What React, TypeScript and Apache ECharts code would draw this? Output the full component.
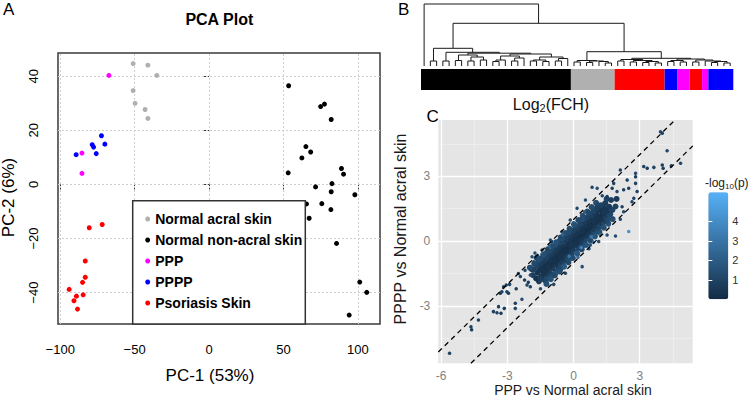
import React, { useEffect, useRef } from "react";
import * as echarts from "echarts";

const FONT = "'Liberation Sans', Arial, Helvetica, sans-serif";

// ---------------- Panel A : PCA ----------------
const pcaGroups = ["Normal acral skin", "Normal non-acral skin", "PPP", "PPPP", "Psoriasis Skin"];
const pcaColors = ["#B0B0B0", "#000000", "#FF00FF", "#0000FF", "#FF0000"];
const normalAcral = [[-51.0, 44.7], [-41.1, 44.1], [-35.1, 40.3], [-51.0, 34.7], [-49.7, 30.0], [-43.0, 27.7], [-41.1, 24.4]];
const normalNonAcral = [
  [53.5, 36.5], [75.0, 28.8], [77.6, 29.7], [82.1, 24.0], [65.1, 14.0], [62.4, 9.8], [68.3, 12.0], [53.2, 4.3],
  [89.0, 5.9], [90.4, 3.8], [82.6, 0.3], [71.6, -0.9], [82.1, -2.7], [98.0, -3.8], [65.5, -7.2], [75.8, -7.1],
  [81.9, -9.3], [63.3, -13.6], [67.3, -12.5], [85.7, -21.8], [101.3, -36.1], [106.0, -39.9], [94.2, -48.3],
];
const ppp = [[-67.3, 40.3], [-85.4, 11.6], [-85.4, 4.1]];
const pppp = [[-89.3, 11.0], [-78.5, 14.7], [-77.6, 13.8], [-75.8, 11.4], [-72.3, 18.0], [-70.0, 14.9]];
const psoriasis = [
  [-80.5, -16.0], [-71.8, -14.8], [-83.2, -28.3], [-83.2, -34.3], [-85.0, -36.2],
  [-94.0, -38.8], [-89.1, -41.3], [-84.6, -40.8], [-90.8, -43.0], [-88.4, -46.1],
];
const pcaSeriesData = [normalAcral, normalNonAcral, ppp, pppp, psoriasis];
const pcaXTicks = [-100, -50, 0, 50, 100];
const pcaYTicks = [-40, -20, 0, 20, 40];
const pcaXRange = [-101.5, 114.9];
const pcaYRange = [-51.6, 48.6];

// ---------------- Panel B : dendrogram + sample bar ----------------
// node = [height, left, right]; leaf = 0
const blackLeft = [5, 0, 0];
const blackD1 = [11, [5.5, 0, 0], [9, [5, 0, 0], [6, 0, 0]]];
const blackD3 = [10, [6, [4.5, 0, 0], 0], [8, [5, 0, 0], 0]];
const blackD4 = [9, [6, [5, 0, 0], [4.5, 0, 0]], [7.5, [5, 0, 0], 0]];
const blackTree = [17.7, blackLeft, [13.7, [5, 0, 0], [12.8, blackD1, [12, blackD3, blackD4]]]];
const grayTree = [5.5, [4, 0, 0], [5, [3.5, 0, 0], [4.5, 0, [3, 0, 0]]]];
const redTree = [6.5, [5, 0, 0], [5.5, [4, 0, 0], [4.5, [3.5, 0, 0], [3, 0, 0]]]];
const mixedTree = [7, [5.5, [4.5, 0, 0], [4, 0, 0]], [6, [4, 0, 0], [5, 0, [4.5, [3.5, 0, 0], [3, 0, 0]]]]];
const lesionTree = [7.7, redTree, mixedTree];
const dendroTree = [62, 0, [42.7, blackTree, [14.3, grayTree, lesionTree]]];
const dendroMaxHeight = 62;

const barGroups = ["Normal non-acral skin", "Normal acral skin", "Psoriasis Skin", "PPPP", "PPP", "Psoriasis Skin", "PPP", "PPPP"];
const barCounts = [24, 7, 8, 2, 2, 2, 1, 4];

// ---------------- Panel C : fold-change scatter ----------------
const fchXTicks = [-6, -3, 0, 3];
const fchYTicks = [-3, 0, 3];
const fchMinorX = [-4.5, -1.5, 1.5, 4.5];
const fchMinorY = [-4.5, -1.5, 1.5, 4.5];
const fchXRange = [-6.13, 5.4];
const fchYRange = [-5.65, 5.6];
const foldLines = [1, -1];
const pRange = [0, 5.5];
const pTicks = [1, 2, 3, 4];

const coreGenes = [
  [-1.57, -1.86, 0.7], [-1.70, -1.72, 0.3], [-1.84, -1.57, 0.8],
  [-1.31, -1.80, 1.0], [-1.47, -1.65, 0.5], [-1.62, -1.46, 0.4], [-1.80, -1.31, 0.9],
  [-1.13, -1.67, 1.1], [-1.27, -1.55, 0.6], [-1.41, -1.38, 0.3], [-1.55, -1.27, 0.4], [-1.66, -1.13, 1.0],
  [-0.97, -1.55, 1.3], [-1.12, -1.41, 0.6], [-1.24, -1.27, 0.2], [-1.36, -1.13, 0.3], [-1.49, -1.02, 0.7], [-1.60, -0.90, 1.2],
  [-0.79, -1.42, 1.4], [-0.94, -1.27, 0.7], [-1.06, -1.16, 0.3], [-1.17, -1.02, 0.2], [-1.31, -0.91, 0.6], [-1.42, -0.78, 1.1],
  [-0.67, -1.24, 1.0], [-0.81, -1.09, 0.5], [-0.94, -0.96, 0.2], [-1.06, -0.84, 0.4], [-1.19, -0.71, 0.9],
  [-0.49, -1.12, 1.3], [-0.64, -0.97, 0.6], [-0.76, -0.86, 0.2], [-0.87, -0.72, 0.3], [-1.01, -0.61, 0.7], [-1.12, -0.48, 1.2],
  [-0.41, -0.91, 0.9], [-0.52, -0.77, 0.4], [-0.66, -0.64, 0.2], [-0.79, -0.52, 0.5], [-0.91, -0.38, 0.9],
  [-0.19, -0.81, 1.5], [-0.34, -0.67, 0.7], [-0.46, -0.56, 0.3], [-0.57, -0.42, 0.2], [-0.71, -0.31, 0.6], [-0.82, -0.18, 1.3],
  [-0.09, -0.62, 1.0], [-0.22, -0.47, 0.5], [-0.36, -0.34, 0.2], [-0.49, -0.24, 0.4], [-0.61, -0.09, 1.0],
  [0.11, -0.49, 1.6], [-0.04, -0.37, 0.7], [-0.16, -0.26, 0.3], [-0.27, -0.12, 0.3], [-0.41, 0.01, 0.7], [-0.52, 0.12, 1.4],
  [0.21, -0.31, 1.1], [0.07, -0.17, 0.4], [-0.06, -0.04, 0.2], [-0.17, 0.09, 0.5], [-0.31, 0.21, 1.0],
  [0.41, -0.21, 1.4], [0.29, -0.07, 0.7], [0.14, 0.06, 0.3], [0.04, 0.17, 0.3], [-0.11, 0.31, 0.7], [-0.21, 0.42, 1.3],
  [0.51, 0.01, 1.0], [0.37, 0.14, 0.5], [0.26, 0.24, 0.2], [0.12, 0.39, 0.4], [0.01, 0.51, 0.9],
  [0.71, 0.11, 1.5], [0.57, 0.24, 0.6], [0.46, 0.34, 0.2], [0.32, 0.49, 0.3], [0.21, 0.59, 0.7], [0.09, 0.71, 1.2],
  [0.81, 0.29, 1.0], [0.67, 0.44, 0.4], [0.56, 0.54, 0.2], [0.42, 0.69, 0.5], [0.31, 0.81, 1.0],
  [1.01, 0.41, 1.3], [0.87, 0.54, 0.7], [0.76, 0.64, 0.3], [0.62, 0.79, 0.3], [0.51, 0.89, 0.7], [0.39, 1.01, 1.4],
  [1.11, 0.59, 0.9], [0.97, 0.74, 0.5], [0.86, 0.84, 0.2], [0.72, 0.99, 0.4], [0.61, 1.09, 1.0],
  [1.31, 0.69, 1.3], [1.17, 0.84, 0.6], [1.06, 0.94, 0.3], [0.92, 1.09, 0.3], [0.81, 1.19, 0.8], [0.69, 1.31, 1.2],
  [1.41, 0.91, 0.9], [1.27, 1.04, 0.4], [1.16, 1.14, 0.2], [1.02, 1.29, 0.5], [0.91, 1.39, 1.0],
  [1.56, 1.04, 1.2], [1.42, 1.19, 0.6], [1.31, 1.29, 0.3], [1.17, 1.44, 0.4], [1.06, 1.54, 0.9],
  [1.66, 1.24, 1.1], [1.52, 1.39, 0.5], [1.39, 1.52, 0.4], [1.24, 1.66, 0.9],
  [1.76, 1.44, 1.0], [1.61, 1.59, 0.6], [1.44, 1.76, 0.8],
  [-1.90, -1.30, 0.9], [-1.50, -1.75, 0.8], [-1.20, -1.75, 1.2], [-0.60, -1.30, 1.1], [-1.30, -0.60, 1.2], [-1.65, -0.75, 1.1],
  [1.90, 1.60, 0.9], [1.70, 1.90, 0.8], [1.95, 1.95, 0.6], [1.50, 1.95, 1.0],
  [-1.35, -1.45, 0.3], [-0.85, -0.95, 0.3], [-0.35, -0.45, 0.2], [0.15, -0.05, 0.3], [0.65, 0.55, 0.2], [1.15, 1.05, 0.3],
  [-1.15, -1.20, 0.4], [-0.60, -0.70, 0.3], [-0.10, -0.15, 0.4], [0.40, 0.45, 0.3], [0.90, 0.95, 0.4], [1.40, 1.35, 0.5],
  [-1.98, -1.23, 1.3], [-1.23, -1.98, 1.5], [-1.78, -1.05, 1.2], [-1.03, -1.76, 1.6], [-1.58, -0.83, 1.4], [-0.85, -1.58, 1.2],
  [-1.38, -0.63, 1.5], [-0.63, -1.40, 1.3], [-1.18, -0.43, 1.2], [-0.43, -1.18, 1.7], [-0.98, -0.23, 1.4], [-0.23, -0.98, 1.2],
  [-0.78, -0.05, 1.6], [-0.03, -0.78, 1.3], [-0.58, 0.17, 1.2], [0.17, -0.58, 1.8], [-0.38, 0.37, 1.4], [0.37, -0.38, 1.2],
  [-0.18, 0.57, 1.3], [0.57, -0.18, 1.6], [0.02, 0.77, 1.5], [0.77, 0.02, 1.2], [0.22, 0.97, 1.2], [0.97, 0.22, 1.7],
  [0.42, 1.17, 1.4], [1.17, 0.42, 1.3], [0.62, 1.37, 1.2], [1.37, 0.62, 1.5], [0.82, 1.57, 1.3], [1.57, 0.82, 1.2],
  [1.02, 1.77, 1.1], [1.77, 1.02, 1.4],
];

const outlierGenes = [
  [-5.62, -5.19, 1.0], [-4.65, -3.96, 0.9], [-4.62, -4.10, 0.7], [-4.31, -3.65, 1.1],
  [-3.63, -3.26, 0.8], [-3.47, -3.31, 1.0], [-3.29, -3.34, 0.7], [-3.40, -3.03, 0.9], [-3.14, -3.11, 0.7],
  [-2.64, -3.11, 1.2], [-2.64, -2.87, 0.9], [-2.34, -2.69, 1.3],
  [-3.32, -2.41, 0.8], [-3.25, -2.34, 1.0], [-3.17, -2.11, 0.7], [-3.05, -2.03, 1.1], [-2.90, -2.00, 0.9],
  [-2.95, -2.41, 0.7], [-3.02, -2.34, 0.9],
  [-2.41, -1.64, 1.1], [-2.22, -1.80, 0.8], [-2.11, -2.03, 1.2], [-1.96, -2.11, 0.9], [-1.96, -1.57, 1.3],
  [-2.20, -1.35, 1.0], [-2.05, -1.90, 0.8],
  [-1.88, -0.72, 1.4], [-1.73, -0.79, 1.0], [-1.81, -0.95, 1.2], [-1.43, -0.41, 1.5], [-1.20, -0.33, 1.1],
  [-1.05, 0.05, 1.7], [-0.98, -0.02, 1.1], [-0.68, 0.05, 1.4], [-0.52, 0.44, 1.9], [-0.15, 0.98, 1.3],
  [0.16, 1.52, 1.2], [0.54, 1.90, 1.5], [0.84, 2.49, 1.0], [1.07, 2.44, 1.3],
  [-0.75, -1.49, 1.6], [-0.37, -1.49, 1.1], [0.39, -1.18, 1.5], [0.76, -0.18, 1.8], [1.14, -0.02, 1.2],
  [1.52, 0.28, 1.6], [1.90, 0.24, 1.4], [2.50, 0.44, 4.3], [2.12, 1.01, 1.4], [2.20, 1.59, 1.0],
  [2.27, 1.36, 1.3], [2.65, 1.82, 1.1], [2.73, 1.98, 0.9], [2.88, 2.29, 1.0], [1.44, 1.67, 0.8], [1.52, 2.06, 0.8],
  [1.82, 2.67, 1.0], [1.75, 2.44, 0.7], [1.97, 2.29, 1.2], [2.27, 2.37, 0.9], [2.50, 2.44, 0.8],
  [2.12, 3.29, 1.0], [2.43, 2.83, 0.8], [2.81, 3.14, 1.2], [2.81, 2.98, 0.8], [2.81, 2.67, 1.0],
  [3.18, 3.45, 0.9], [3.34, 3.37, 0.7], [3.64, 3.41, 1.0], [4.02, 3.52, 0.8], [4.06, 3.37, 0.8],
  [4.24, 4.18, 1.1], [4.43, 3.48, 1.0], [4.85, 3.60, 1.1], [3.94, 5.06, 1.2], [4.02, 4.99, 0.9],
  [-1.00, -1.75, 1.6], [-0.40, -1.20, 2.0], [0.20, -0.75, 2.4], [0.70, -0.35, 1.9], [1.20, 0.30, 2.2],
  [1.60, 0.75, 1.7], [0.90, -0.05, 2.8], [-1.75, -0.55, 1.5], [-1.10, -0.25, 2.0], [-0.50, 0.30, 2.3],
  [0.00, 0.85, 1.8], [0.50, 1.35, 2.0], [1.00, 1.80, 1.5], [1.30, 2.10, 1.2],
  [-2.50, -1.50, 1.0], [-2.60, -2.20, 0.9], [-1.50, -2.20, 1.3], [-0.90, -2.00, 1.1],
  [0.35, -0.30, 3.6], [0.80, 0.20, 3.2], [-0.20, -0.70, 3.0],
];

function buildDendrogram(tree: any) {
  const segs: number[][] = [];
  let leaf = 0;
  const walk = (n: any): { x: number; h: number } => {
    if (typeof n === "number") {
      const x = leaf + 0.5;
      leaf += 1;
      return { x, h: 0 };
    }
    const a = walk(n[1]);
    const b = walk(n[2]);
    segs.push([a.x, a.h, b.x, b.h, n[0]]);
    return { x: (a.x + b.x) / 2, h: n[0] };
  };
  walk(tree);
  return { segs, leaves: leaf };
}

const minus = (v: number) => String(v).replace("-", "\u2212");

export default function App() {
  const ref = useRef<HTMLDivElement>(null);
  useEffect(() => {
    if (!ref.current) return;
    const chart = echarts.init(ref.current, undefined, { renderer: "svg" });
    const dendro = buildDendrogram(dendroTree);
    const barTotal = barCounts.reduce((s, v) => s + v, 0);

    const series: any[] = [];
    series.push({
      type: "scatter", xAxisIndex: 0, yAxisIndex: 0, silent: true, z: 1,
      data: [[pcaXTicks[2], pcaYTicks[2]]], symbolSize: 0,
      markLine: {
        silent: true, symbol: "none", label: { show: false }, animation: false, z: 1,
        lineStyle: { color: "#cfcfcf", type: [2, 2], width: 1 },
        data: [...pcaXTicks.map((v) => ({ xAxis: v })), ...pcaYTicks.map((v) => ({ yAxis: v }))],
      },
    });
    pcaGroups.forEach((name, i) => {
      series.push({
        type: "scatter", name, xAxisIndex: 0, yAxisIndex: 0, z: 3, silent: true,
        emphasis: { disabled: true }, symbol: "circle",
        data: pcaSeriesData[i], symbolSize: 5, itemStyle: { color: pcaColors[i], opacity: 1, borderWidth: 0 },
      });
    });
    series.push({
      type: "custom", xAxisIndex: 1, yAxisIndex: 1, silent: true,
      data: dendro.segs,
      renderItem: (_p: any, api: any) => {
        const a = api.coord([api.value(0), api.value(1)]);
        const b = api.coord([api.value(0), api.value(4)]);
        const c = api.coord([api.value(2), api.value(4)]);
        const d = api.coord([api.value(2), api.value(3)]);
        return { type: "polyline", shape: { points: [a, b, c, d] }, style: { stroke: "#1a1a1a", lineWidth: 1, fill: null } };
      },
    });
    barGroups.forEach((g, i) => {
      series.push({
        type: "bar", xAxisIndex: 2, yAxisIndex: 2, stack: "samples", silent: true,
        data: [barCounts[i]], barWidth: "100%",
        itemStyle: { color: pcaColors[pcaGroups.indexOf(g)] },
      });
    });
    series.push({
      type: "scatter", xAxisIndex: 3, yAxisIndex: 3, silent: true, z: 1,
      data: [[fchXTicks[2], fchYTicks[1]]], symbolSize: 0,
      markLine: {
        silent: true, symbol: "none", label: { show: false }, animation: false, z: 1,
        data: [
          ...fchMinorX.map((v) => ({ xAxis: v, lineStyle: { color: "#F2F2F2", width: 0.6, type: "solid" } })),
          ...fchMinorY.map((v) => ({ yAxis: v, lineStyle: { color: "#F2F2F2", width: 0.6, type: "solid" } })),
          ...fchXTicks.map((v) => ({ xAxis: v, lineStyle: { color: "#FFFFFF", width: 1.3, type: "solid" } })),
          ...fchYTicks.map((v) => ({ yAxis: v, lineStyle: { color: "#FFFFFF", width: 1.3, type: "solid" } })),
        ],
      },
    });
    const coreIdx = series.length;
    series.push({
      type: "scatter", xAxisIndex: 3, yAxisIndex: 3, z: 3, silent: true, emphasis: { disabled: true },
      data: coreGenes, symbolSize: 6, itemStyle: { opacity: 1 },
    });
    const outIdx = series.length;
    series.push({
      type: "scatter", xAxisIndex: 3, yAxisIndex: 3, z: 3, silent: true, emphasis: { disabled: true },
      data: outlierGenes, symbolSize: 3.5, itemStyle: { opacity: 1 },
    });
    foldLines.forEach((off) => {
      const x0 = Math.max(fchXRange[0], fchYRange[0] - off);
      const x1 = Math.min(fchXRange[1], fchYRange[1] - off);
      series.push({
        type: "line", xAxisIndex: 3, yAxisIndex: 3, z: 4, silent: true, symbol: "none",
        data: [[x0, x0 + off], [x1, x1 + off]],
        lineStyle: { color: "#000", width: 1.3, type: [5, 4] },
      });
    });

    const noAxis = { show: false };
    const baseGraphics: any[] = [
      { type: "rect", z: 5, shape: { x: 132.7, y: 200.7, width: 172.6, height: 123.3 }, style: { fill: "#fff", stroke: "#333", lineWidth: 1.5 } },
      { type: "text", x: 3, y: 9, style: { text: "A", fontSize: 17, fontFamily: FONT, fill: "#000", align: "left", verticalAlign: "middle" } },
      { type: "text", x: 398, y: 9, style: { text: "B", fontSize: 17, fontFamily: FONT, fill: "#000", align: "left", verticalAlign: "middle" } },
      { type: "text", x: 426.5, y: 116, style: { text: "C", fontSize: 17, fontFamily: FONT, fill: "#000", align: "left", verticalAlign: "middle" } },
      { type: "text", x: 219.3, y: 19.3, style: { text: "PCA Plot", fontSize: 16, fontWeight: "bold", fontFamily: FONT, fill: "#000", align: "center", verticalAlign: "middle" } },
      { type: "text", x: 210, y: 375, style: { text: "PC-1 (53%)", fontSize: 17, fontFamily: FONT, fill: "#000", align: "center", verticalAlign: "middle" } },
      { type: "text", x: 8, y: 197.5, rotation: Math.PI / 2, style: { text: "PC-2 (6%)", fontSize: 17, fontFamily: FONT, fill: "#000", align: "center", verticalAlign: "middle" } },
      {
        type: "text", x: 551, y: 104,
        style: {
          text: "Log{sub|2}(FCH)", fontSize: 16, fontFamily: FONT, fill: "#111", align: "center", verticalAlign: "middle",
          rich: { sub: { fontSize: 11, fontFamily: FONT, fill: "#111", padding: [8, 0, 0, 0] } },
        },
      },
      { type: "text", x: 573, y: 390, style: { text: "PPP vs Normal acral skin", fontSize: 14, fontFamily: FONT, fill: "#1a1a1a", align: "center", verticalAlign: "middle" } },
      { type: "text", x: 400.5, y: 229, rotation: Math.PI / 2, style: { text: "PPPP vs Normal acral skin", fontSize: 16, fontFamily: FONT, fill: "#1a1a1a", align: "center", verticalAlign: "middle" } },
      {
        type: "text", x: 705, y: 183,
        style: {
          text: "-log{sub|10}(p)", fontSize: 12, fontFamily: FONT, fill: "#1a1a1a", align: "left", verticalAlign: "middle",
          rich: { sub: { fontSize: 8, fontFamily: FONT, fill: "#1a1a1a", padding: [6, 0, 0, 0] } },
        },
      },
    ];

    const option: any = {
      animation: false,
      backgroundColor: "#ffffff",
      textStyle: { fontFamily: FONT },
      grid: [
        { left: 58, top: 53, width: 322, height: 271, show: true, borderColor: "#3a3a3a", borderWidth: 1.5, backgroundColor: "transparent" },
        { left: 421, top: 4, width: 312.3, height: 62 },
        { left: 421, top: 69, width: 312.3, height: 21 },
        { left: 438.3, top: 120, width: 254.4, height: 243.3, show: true, backgroundColor: "#E5E5E5", borderWidth: 0 },
        { left: 708.3, top: 192.3, width: 20, height: 107 },
      ],
      xAxis: [
        {
          gridIndex: 0, type: "value", min: pcaXRange[0], max: pcaXRange[1],
          axisLine: { show: false },
          axisTick: { show: true, length: 5, lineStyle: { color: "#333" }, customValues: pcaXTicks },
          axisLabel: { customValues: pcaXTicks, formatter: minus, fontSize: 13, color: "#000", margin: 19 },
          splitLine: { show: false },
        },
        { gridIndex: 1, type: "value", min: 0, max: dendro.leaves, ...noAxis },
        { gridIndex: 2, type: "value", min: 0, max: barTotal, ...noAxis },
        {
          gridIndex: 3, type: "value", min: fchXRange[0], max: fchXRange[1],
          axisLine: { show: false },
          axisTick: { show: true, length: 3, lineStyle: { color: "#7f7f7f" }, customValues: fchXTicks },
          axisLabel: { customValues: fchXTicks, color: "#7f7f7f", fontSize: 12, margin: 7 },
          splitLine: { show: false },
        },
        { gridIndex: 4, type: "value", min: 0, max: 1, ...noAxis },
      ],
      yAxis: [
        {
          gridIndex: 0, type: "value", min: pcaYRange[0], max: pcaYRange[1],
          axisLine: { show: false },
          axisTick: { show: true, length: 5, lineStyle: { color: "#333" }, customValues: pcaYTicks },
          axisLabel: { show: false },
          splitLine: { show: false },
        },
        { gridIndex: 1, type: "value", min: 0, max: dendroMaxHeight, ...noAxis },
        { gridIndex: 2, type: "category", data: ["Log2(FCH)"], ...noAxis },
        {
          gridIndex: 3, type: "value", min: fchYRange[0], max: fchYRange[1],
          axisLine: { show: false },
          axisTick: { show: true, length: 3, lineStyle: { color: "#7f7f7f" }, customValues: fchYTicks },
          axisLabel: { customValues: fchYTicks, color: "#7f7f7f", fontSize: 12, margin: 8 },
          splitLine: { show: false },
        },
        {
          gridIndex: 4, type: "value", position: "right", min: pRange[0], max: pRange[1], z: 10,
          axisLine: { show: false },
          axisTick: { show: true, inside: true, length: 4, lineStyle: { color: "#ffffff", width: 1 }, customValues: pTicks },
          axisLabel: { customValues: pTicks, fontSize: 11, color: "#333", margin: 4 },
          splitLine: { show: false },
        },
        {
          gridIndex: 4, type: "value", position: "left", min: pRange[0], max: pRange[1], z: 10,
          axisLine: { show: false },
          axisTick: { show: true, inside: true, length: 4, lineStyle: { color: "#ffffff", width: 1 }, customValues: pTicks },
          axisLabel: { show: false },
          splitLine: { show: false },
        },
      ],
      visualMap: {
        type: "continuous", min: pRange[0], max: pRange[1], dimension: 2,
        seriesIndex: [coreIdx, outIdx], calculable: false, show: true,
        left: 708.3, top: 192.3, itemWidth: 20, itemHeight: 107, padding: 0,
        inRange: { color: ["#132B43", "#56B1F7"] }, text: null, hoverLink: false,
      },
      legend: {
        data: pcaGroups, orient: "vertical", left: 145.2, top: 211, padding: 0,
        itemWidth: 5, itemHeight: 5, itemGap: 5, icon: "circle", selectedMode: false, z: 10,
        textStyle: { fontFamily: FONT, fontSize: 14, fontWeight: "bold", color: "#000", lineHeight: 16 },
      },
      graphic: baseGraphics,
      series,
    };
    chart.setOption(option);

    // R-style rotated y tick labels for the PCA panel, positioned through the axis scale
    const yLabels = pcaYTicks.map((v) => ({
      type: "text",
      x: 33,
      y: chart.convertToPixel({ yAxisIndex: 0 }, v),
      rotation: Math.PI / 2,
      style: { text: minus(v), fontSize: 13, fontFamily: FONT, fill: "#000", align: "center", verticalAlign: "middle" },
    }));
    chart.setOption({ graphic: [...baseGraphics, ...yLabels] });
    return () => chart.dispose();
  }, []);
  return <div ref={ref} style={{ position: "absolute", left: 0, top: 0, width: 750, height: 403, background: "#fff" }} />;
}
